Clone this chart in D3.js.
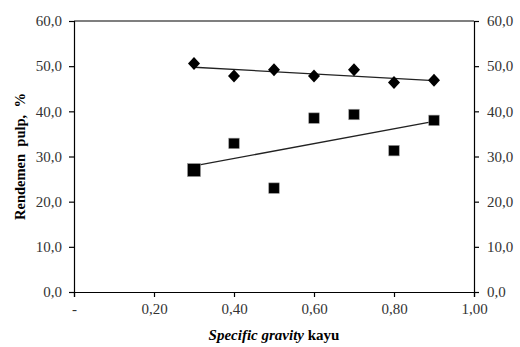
<!DOCTYPE html>
<html>
<head>
<meta charset="utf-8">
<script src="https://cdn.jsdelivr.net/npm/d3@7"></script>
<style>
  body { margin: 0; background: #fff; }
  svg text { font-family: "Liberation Serif", "Times New Roman", serif; }
</style>
</head>
<body>
<svg id="chart" width="520" height="347"></svg>
<script>
// specific gravity values
var sg = [0.3, 0.4, 0.5, 0.6, 0.7, 0.8, 0.9];
// rendemen pulp, series 1 (diamonds) and series 2 (squares)
var diamondVals = [50.6, 47.8, 49.2, 47.8, 49.2, 46.4, 46.9];
var squareVals = [27.0, 32.9, 23.0, 38.5, 39.3, 31.3, 38.0];
var xTicks = [0, 0.2, 0.4, 0.6, 0.8, 1.0];
var yTicks = [0, 10, 20, 30, 40, 50, 60];

var margin = {left: 74, right: 46, top: 21, bottom: 55};
var width = 520, height = 347;

var svg = d3.select("#chart");
var g = svg.append("g").attr("transform", `translate(${margin.left}, ${margin.top})`);

var w = width - margin.left - margin.right;
var h = height - margin.top - margin.bottom;

var x = d3.scaleLinear().domain([0, 1]).range([0, w]);
var y = d3.scaleLinear().domain([0, 60]).range([h, 0]);

var fmt = function(d, n) { return d.toFixed(n).replace(".", ","); };

// top border
g.append("line").attr("x1", 0).attr("x2", w).attr("y1", 0).attr("y2", 0)
    .attr("stroke", "#000").attr("stroke-width", 1.2);

var xAxis = g.append("g").attr("transform", `translate(0, ${h})`)
    .call(d3.axisBottom(x).tickValues(xTicks).tickSize(5).tickPadding(6)
        .tickFormat(function(d) { return d === 0 ? "-" : fmt(d, 2); }));

var yLeft = g.append("g")
    .call(d3.axisLeft(y).tickValues(yTicks).tickSize(5).tickPadding(7)
        .tickFormat(function(d) { return fmt(d, 1); }));

var yRight = g.append("g").attr("transform", `translate(${w}, 0)`)
    .call(d3.axisRight(y).tickValues(yTicks).tickSize(5).tickPadding(8)
        .tickFormat(function(d) { return fmt(d, 1); }));

[xAxis, yLeft, yRight].forEach(function(a) {
    a.attr("font-family", null);
    a.select(".domain").attr("stroke", "#000").attr("stroke-width", 1.2);
    a.selectAll(".tick line").attr("stroke", "#000").attr("stroke-width", 1.2);
    a.selectAll("text").attr("font-size", 15).attr("fill", "#333");
});

// linear regression for trend lines
function fit(xs, ys) {
    var mx = d3.mean(xs), my = d3.mean(ys);
    var num = d3.sum(xs, function(v, i) { return (v - mx) * (ys[i] - my); });
    var den = d3.sum(xs, function(v) { return (v - mx) * (v - mx); });
    var b = num / den;
    return function(v) { return my + b * (v - mx); };
}

var line = d3.line().x(function(d) { return x(d[0]); }).y(function(d) { return y(d[1]); });

[diamondVals, squareVals].forEach(function(vals) {
    var f = fit(sg, vals);
    var ends = [sg[0], sg[sg.length - 1]];
    g.append("path")
        .attr("d", line(ends.map(function(v) { return [v, f(v)]; })))
        .attr("fill", "none").attr("stroke", "#222").attr("stroke-width", 1.3);
});

// diamonds
g.selectAll(".dia").data(sg).enter().append("path")
    .attr("class", "dia")
    .attr("transform", function(d, i) { return `translate(${x(d)}, ${y(diamondVals[i])})`; })
    .attr("d", "M0,-6.5L6,0L0,6.5L-6,0Z")
    .attr("fill", "#000");

// squares
var sqSize = function(i) { return i === 0 ? 13 : 10.5; };
g.selectAll(".sq").data(sg).enter().append("rect")
    .attr("class", "sq")
    .attr("x", function(d, i) { return x(d) - sqSize(i) / 2; })
    .attr("y", function(d, i) { return y(squareVals[i]) - sqSize(i) / 2; })
    .attr("width", function(d, i) { return sqSize(i); })
    .attr("height", function(d, i) { return sqSize(i); })
    .attr("fill", "#000").attr("stroke", "#999").attr("stroke-width", 0.6);

// axis titles
svg.append("text")
    .attr("transform", `translate(25, ${margin.top + h / 2}) rotate(-90)`)
    .style("text-anchor", "middle")
    .attr("font-size", 14.5).attr("font-weight", "bold")
    .attr("xml:space", "preserve")
    .text("Rendemen  pulp,  %");

var xl = svg.append("text")
    .attr("x", margin.left + w / 2).attr("y", 340)
    .style("text-anchor", "middle")
    .attr("font-size", 15).attr("font-weight", "bold");
xl.append("tspan").attr("font-style", "italic").text("Specific gravity");
xl.append("tspan").text(" kayu");
</script>
</body>
</html>
